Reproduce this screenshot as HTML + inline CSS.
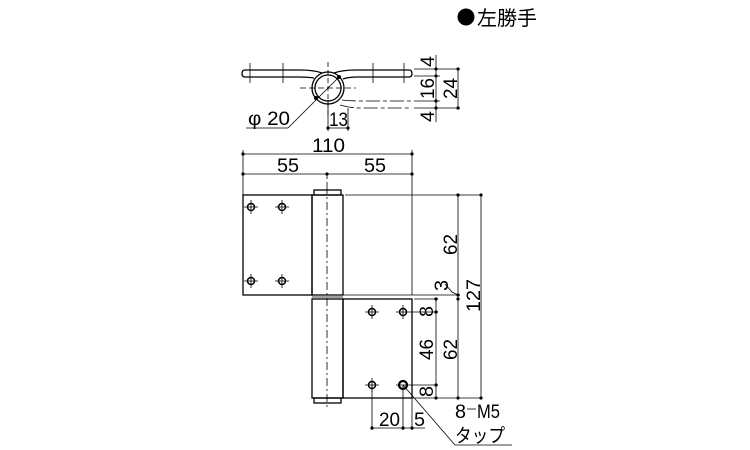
<!DOCTYPE html>
<html><head><meta charset="utf-8"><style>
html,body{margin:0;padding:0;background:#fff}
svg{display:block}
text{font-family:"Liberation Sans","Noto Sans CJK JP",sans-serif;fill:#000}
</style></head><body>
<svg width="750" height="450" viewBox="0 0 750 450" xmlns="http://www.w3.org/2000/svg">
<circle cx="466" cy="17" r="8.5" fill="#000"/>
<text x="477" y="25" font-size="20" textLength="60" lengthAdjust="spacingAndGlyphs">左勝手</text>

<!-- TOP VIEW -->
<g stroke="#000" fill="none" stroke-width="1.3">
<path d="M314,78 Q308,77 298,77 H245 Q242,77 242,73.5 Q242,70 245,70 H300 Q314,70 322,73"/>
<path d="M334,73 Q342,70 356,70 H409 Q412,70 412,73.5 Q412,77 409,77 H358 Q348,77 343,79"/>
<circle cx="328" cy="88" r="16"/>
<circle cx="328" cy="88" r="13"/>
</g>
<g stroke="#000" fill="none" stroke-width="0.8">
<line x1="250" y1="63" x2="250" y2="83"/><line x1="283" y1="63" x2="283" y2="83"/>
<line x1="373" y1="63" x2="373" y2="83"/><line x1="404" y1="63" x2="404" y2="83"/>
<line x1="328" y1="62" x2="328" y2="116" stroke-dasharray="5,3"/>
<line x1="300" y1="88" x2="356" y2="88" stroke-dasharray="6,3"/>
<path d="M342,100 Q350,101 360,101 H412" stroke-dasharray="14,3,4,3"/>
<path d="M340,105 Q350,108 360,108 H412" stroke-dasharray="14,3,4,3"/>
<line x1="339" y1="77" x2="288" y2="128"/><line x1="288" y1="128" x2="246" y2="128"/>
<line x1="328" y1="100" x2="328" y2="131"/><line x1="348" y1="108" x2="348" y2="131"/>
<line x1="328" y1="128" x2="348" y2="128"/>
<line x1="414" y1="69" x2="460" y2="69"/><line x1="414" y1="76" x2="440" y2="76"/>
<line x1="414" y1="101" x2="440" y2="101"/><line x1="414" y1="108" x2="460" y2="108"/>
<line x1="436" y1="55" x2="436" y2="122"/><line x1="458" y1="69" x2="458" y2="108"/>
<line x1="243" y1="150" x2="243" y2="195"/><line x1="412" y1="150" x2="412" y2="295"/>
<line x1="243" y1="154" x2="412" y2="154"/><line x1="243" y1="174" x2="412" y2="174"/>
<line x1="327" y1="174" x2="327" y2="186" stroke-dasharray="5,3"/>
</g>
<g fill="#000">
<circle cx="316" cy="98" r="2"/><circle cx="339" cy="77" r="2"/>
<circle cx="328" cy="128" r="1.6"/><circle cx="348" cy="128" r="1.6"/>
<circle cx="436" cy="69" r="1.6"/><circle cx="436" cy="76" r="1.6"/><circle cx="436" cy="101" r="1.6"/><circle cx="436" cy="108" r="1.6"/>
<circle cx="458" cy="69" r="1.6"/><circle cx="458" cy="108" r="1.6"/>
<circle cx="243" cy="154" r="1.6"/><circle cx="412" cy="154" r="1.6"/>
<circle cx="243" cy="174" r="1.6"/><circle cx="327" cy="174" r="1.6"/><circle cx="412" cy="174" r="1.6"/>
</g>
<g font-size="19">
<text x="248" y="125" textLength="42" lengthAdjust="spacingAndGlyphs">φ 20</text>
<text x="329" y="126" textLength="19" lengthAdjust="spacingAndGlyphs">13</text>
<text x="312" y="152" textLength="33" lengthAdjust="spacingAndGlyphs">110</text>
<text x="277" y="172" textLength="22" lengthAdjust="spacingAndGlyphs">55</text>
<text x="364" y="172" textLength="22" lengthAdjust="spacingAndGlyphs">55</text>
<text transform="translate(434,67) rotate(-90)" textLength="11" lengthAdjust="spacingAndGlyphs">4</text>
<text transform="translate(434,99) rotate(-90)" textLength="21" lengthAdjust="spacingAndGlyphs">16</text>
<text transform="translate(457,99) rotate(-90)" textLength="21" lengthAdjust="spacingAndGlyphs">24</text>
<text transform="translate(434,122) rotate(-90)" textLength="11" lengthAdjust="spacingAndGlyphs">4</text>
</g>

<!-- FRONT VIEW -->
<g stroke="#000" fill="none" stroke-width="1.3">
<rect x="243" y="195" width="69" height="100"/>
<rect x="312" y="195" width="31" height="100"/>
<rect x="314" y="190" width="27" height="5"/>
<rect x="312" y="299" width="31" height="99"/>
<rect x="343" y="299" width="69" height="99"/>
<rect x="314" y="398" width="27" height="5"/>
<line x1="312" y1="297" x2="343" y2="297" stroke-width="0.8"/>
</g>
<g stroke="#000" fill="none" stroke-width="0.8">
<line x1="327" y1="186" x2="327" y2="410" stroke-dasharray="8,3,2,3"/>
<line x1="345" y1="195" x2="482" y2="195"/>
<line x1="343" y1="295" x2="460" y2="295"/>
<line x1="414" y1="299" x2="438" y2="299"/>
<line x1="412" y1="398" x2="482" y2="398"/>
<line x1="458" y1="195" x2="458" y2="398"/>
<line x1="481" y1="195" x2="481" y2="398"/>
<line x1="436" y1="299" x2="436" y2="398"/>
<line x1="410" y1="312" x2="438" y2="312"/><line x1="410" y1="385" x2="438" y2="385"/>
<path d="M445,284 L452,292 L458,295"/>
<line x1="372" y1="385" x2="372" y2="430"/><line x1="403" y1="385" x2="403" y2="430"/><line x1="412" y1="398" x2="412" y2="430"/>
<line x1="372" y1="428" x2="425" y2="428"/>
<line x1="403" y1="385" x2="455" y2="445"/><line x1="455" y1="445" x2="512" y2="445"/>
<line x1="467" y1="409" x2="476" y2="409"/>
<path d="M244,207 H258 M251,200 V214 M275,207 H289 M282,200 V214 M244,281 H258 M251,274 V288 M275,281 H289 M282,274 V288"/>
<path d="M365,312 H379 M372,305 V319 M396,312 H410 M403,305 V319 M365,385 H379 M372,378 V392 M396,385 H410"/>
<circle cx="251" cy="207" r="3.5" stroke-width="1.5"/><circle cx="282" cy="207" r="3.5" stroke-width="1.5"/>
<circle cx="251" cy="281" r="3.5" stroke-width="1.5"/><circle cx="282" cy="281" r="3.5" stroke-width="1.5"/>
<circle cx="372" cy="312" r="3.5" stroke-width="1.5"/><circle cx="403" cy="312" r="3.5" stroke-width="1.5"/>
<circle cx="372" cy="385" r="3.5" stroke-width="1.5"/><circle cx="403" cy="385" r="4" stroke-width="2.2"/>
</g>
<g fill="#000">
<circle cx="458" cy="195" r="1.6"/><circle cx="481" cy="195" r="1.6"/>
<circle cx="458" cy="295" r="1.6"/><circle cx="458" cy="299" r="1.6"/>
<circle cx="458" cy="398" r="1.6"/><circle cx="481" cy="398" r="1.6"/>
<circle cx="436" cy="299" r="1.6"/><circle cx="436" cy="312" r="1.6"/><circle cx="436" cy="385" r="1.6"/><circle cx="436" cy="398" r="1.6"/>
<circle cx="372" cy="428" r="1.6"/><circle cx="403" cy="428" r="1.6"/><circle cx="412" cy="428" r="1.6"/>
</g>
<g font-size="19">
<text transform="translate(457,255) rotate(-90)" textLength="21" lengthAdjust="spacingAndGlyphs">62</text>
<text transform="translate(448,291) rotate(-90)" textLength="11" lengthAdjust="spacingAndGlyphs">3</text>
<text transform="translate(480,312) rotate(-90)" textLength="33" lengthAdjust="spacingAndGlyphs">127</text>
<text transform="translate(433,317) rotate(-90)" textLength="11" lengthAdjust="spacingAndGlyphs">8</text>
<text transform="translate(433,360) rotate(-90)" textLength="21" lengthAdjust="spacingAndGlyphs">46</text>
<text transform="translate(457,360) rotate(-90)" textLength="21" lengthAdjust="spacingAndGlyphs">62</text>
<text transform="translate(433,397) rotate(-90)" textLength="11" lengthAdjust="spacingAndGlyphs">8</text>
<text x="379" y="426" textLength="21" lengthAdjust="spacingAndGlyphs">20</text>
<text x="414" y="426" textLength="11" lengthAdjust="spacingAndGlyphs">5</text>
<text x="455" y="418" textLength="11" lengthAdjust="spacingAndGlyphs">8</text>
<text x="477" y="418" textLength="23" lengthAdjust="spacingAndGlyphs">M5</text>
<text x="455" y="442" textLength="50" lengthAdjust="spacingAndGlyphs">タップ</text>
</g>
</svg>
</body></html>
